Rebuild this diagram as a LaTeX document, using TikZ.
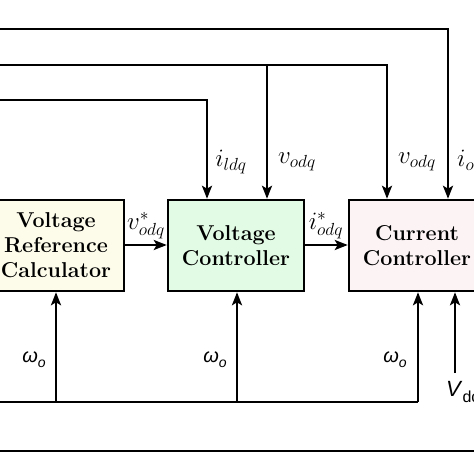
\RequirePackage{fix-cm}
\documentclass[tikz,border=0pt]{standalone}
\usepackage{fontspec}
\newfontfamily\hv{Liberation Sans}
\usetikzlibrary{arrows.meta}
\definecolor{creamfill}{HTML}{FDFBEA}
\definecolor{greenfill}{HTML}{E2FBE4}
\definecolor{pinkfill}{HTML}{FCF4F4}
\tikzset{
  wire/.style={line width=2.4pt},
  arr/.style={wire,-{Stealth[length=13pt,width=10pt,inset=3pt]}},
  blk/.style={draw,line width=2.5pt,minimum width=136pt,minimum height=91pt,inner sep=0pt,
    align=center,font=\fontsize{21.5}{25}\selectfont\bfseries},
  lbl/.style={font=\fontsize{25}{28}\selectfont,inner sep=0pt},
  slbl/.style={font=\hv\fontsize{20}{22}\selectfont\itshape,inner sep=0pt},
}
\begin{document}
\begin{tikzpicture}[x=1pt,y=-1pt]
\useasboundingbox (0,0) rectangle (474,474);
\clip (0,0) rectangle (474,474);
\node[blk,fill=creamfill] (vrc) at (56,245.5) {Voltage\\Reference\\Calculator};
\node[blk,fill=greenfill] (vc) at (236,245.5) {Voltage\\Controller};
\node[blk,fill=pinkfill] (cc) at (417,245.5) {Current\\Controller};
% top feedback lines
\coordinate (t1s) at (-10,29);
\coordinate (t1c) at (448,29);
\coordinate (t2s) at (-10,65);
\coordinate (t2c) at (387,65);
\coordinate (t2b) at (267,65);
\coordinate (t3s) at (-10,100);
\coordinate (t3c) at (207,100);
\draw[arr] (t1s) -- (t1c) -- (t1c |- cc.north);
\draw[arr] (t2s) -- (t2c) -- (t2c |- cc.north);
\draw[arr] (t2b) -- (t2b |- vc.north);
\draw[arr] (t3s) -- (t3c) -- (t3c |- vc.north);
\node[lbl] (lild) at (231,162) {$i_{ldq}$};
\node[lbl] (lvo1) at (297,162) {$v_{odq}$};
\node[lbl] (lvo2) at (417,162) {$v_{odq}$};
\node[lbl,anchor=west] (lio) at (457,162) {$i_{odq}$};
% forward path
\draw[arr] (vrc.east |- 0,245) -- (vc.west |- 0,245);
\draw[arr] (vc.east |- 0,245) -- (cc.west |- 0,245);
\node[lbl] (lvs) at (146,226) {$v^*_{odq}$};
\node[lbl] (lis) at (326,226) {$i^*_{odq}$};
% omega line
\coordinate (ws) at (-10,402);
\coordinate (w1) at (56,402);
\coordinate (w2) at (237,402);
\coordinate (w3) at (418,402);
\draw[wire] (ws) -- (w3);
\draw[arr] (w1) -- (w1 |- vrc.south);
\draw[arr] (w2) -- (w2 |- vc.south);
\draw[arr] (w3) -- (w3 |- cc.south);
\node[slbl] (lw1) at (34,360) {ω\raisebox{-0.25em}{\fontsize{14}{14}\selectfont o}};
\node[slbl] (lw2) at (215,360) {ω\raisebox{-0.25em}{\fontsize{14}{14}\selectfont o}};
\node[slbl] (lw3) at (395,360) {ω\raisebox{-0.25em}{\fontsize{14}{14}\selectfont o}};
% Vdc
\coordinate (vdc) at (455,373);
\draw[arr] (vdc) -- (vdc |- cc.south);
\node[font=\hv\fontsize{22}{22}\selectfont,inner sep=0pt,anchor=west] (lvdc) at (446,392) {\textit{V}\raisebox{-0.25em}{\fontsize{16}{16}\selectfont dc}};
% bottom line
\coordinate (bs) at (-10,451);
\coordinate (be) at (484,451);
\draw[wire] (bs) -- (be);
\end{tikzpicture}
\end{document}
